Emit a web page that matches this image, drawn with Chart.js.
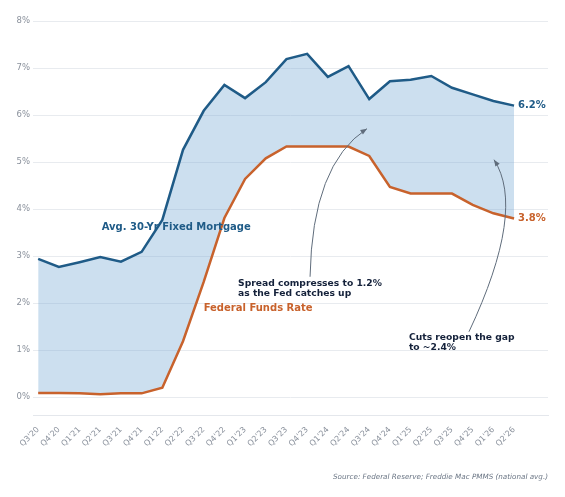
<!DOCTYPE html>
<html>
<head>
<meta charset="utf-8">
<script src="https://cdn.jsdelivr.net/npm/chart.js@4"></script>
<style>
  html, body { margin: 0; padding: 0; background: #fff; }
  #wrap { width: 565px; height: 497px; }
</style>
</head>
<body>
<div id="wrap"><canvas id="rates"></canvas></div>
<script>
const quarters = ["Q3'20","Q4'20","Q1'21","Q2'21","Q3'21","Q4'21","Q1'22","Q2'22","Q3'22","Q4'22",
                  "Q1'23","Q2'23","Q3'23","Q4'23","Q1'24","Q2'24","Q3'24","Q4'24","Q1'25","Q2'25",
                  "Q3'25","Q4'25","Q1'26","Q2'26"];
const mortgage = [2.94, 2.77, 2.87, 2.98, 2.88, 3.09, 3.77, 5.26, 6.09, 6.64,
                  6.36, 6.70, 7.19, 7.30, 6.81, 7.04, 6.34, 6.72, 6.75, 6.83,
                  6.58, 6.44, 6.30, 6.20];
const fedFunds = [0.09, 0.09, 0.08, 0.06, 0.08, 0.08, 0.20, 1.19, 2.45, 3.81,
                  4.64, 5.08, 5.33, 5.33, 5.33, 5.33, 5.13, 4.47, 4.33, 4.33,
                  4.33, 4.09, 3.91, 3.80];
const yTicks = [0, 1, 2, 3, 4, 5, 6, 7, 8];

const BLUE = '#1f5b87';
const ORANGE = '#c8622c';
const NOTE = '#14213a';
const ARROW = '#5f6c7b';
const FONT = "'DejaVu Sans', sans-serif";

// annotation text and arrows, placed in data units (x = quarter index, y = percent)
const labels = [
  { text: ['Avg. 30-Yr Fixed Mortgage'], x: 6.67, y: 3.6, color: BLUE, align: 'center', size: 10 },
  { text: ['Federal Funds Rate'], x: 10.63, y: 1.88, color: ORANGE, align: 'center', size: 10 },
  { text: ['Spread compresses to 1.2%', 'as the Fed catches up'], x: 9.66, y: 2.41, color: NOTE, align: 'left', size: 9.2 },
  { text: ['Cuts reopen the gap', 'to ~2.4%'], x: 17.92, y: 1.26, color: NOTE, align: 'left', size: 9.2 }
];
const arrows = [
  { from: [13.14, 2.56], ctrl: [13.24, 4.95], to: [15.89, 5.71] },
  { from: [20.82, 1.39], ctrl: [23.6, 3.99], to: [22.03, 5.05] }
];

const notesPlugin = {
  id: 'notes',
  afterDatasetsDraw(chart) {
    const { ctx, scales: { x, y } } = chart;
    const px = p => [x.getPixelForValue(p[0]), y.getPixelForValue(p[1])];
    ctx.save();

    arrows.forEach(a => {
      const [x0, y0] = px(a.from), [cx, cy] = px(a.ctrl), [x1, y1] = px(a.to);
      ctx.strokeStyle = ARROW;
      ctx.fillStyle = ARROW;
      ctx.lineWidth = 1;
      ctx.beginPath();
      ctx.moveTo(x0, y0);
      ctx.quadraticCurveTo(cx, cy, x1, y1);
      ctx.stroke();
      const ang = Math.atan2(y1 - cy, x1 - cx);
      ctx.beginPath();
      ctx.moveTo(x1, y1);
      ctx.lineTo(x1 - 7 * Math.cos(ang - 0.38), y1 - 7 * Math.sin(ang - 0.38));
      ctx.lineTo(x1 - 7 * Math.cos(ang + 0.38), y1 - 7 * Math.sin(ang + 0.38));
      ctx.closePath();
      ctx.fill();
    });

    labels.forEach(l => {
      ctx.font = 'bold ' + l.size + 'px ' + FONT;
      ctx.fillStyle = l.color;
      ctx.textAlign = l.align;
      ctx.textBaseline = 'middle';
      const [lx, ly] = px([l.x, l.y]);
      l.text.forEach((t, i) => ctx.fillText(t, lx, ly + i * 10));
    });

    // end-of-line value labels
    const last = quarters.length - 1;
    ctx.font = 'bold 10px ' + FONT;
    ctx.textAlign = 'left';
    ctx.textBaseline = 'middle';
    ctx.fillStyle = BLUE;
    ctx.fillText(mortgage[last].toFixed(1) + '%', x.getPixelForValue(last) + 4, y.getPixelForValue(mortgage[last]));
    ctx.fillStyle = ORANGE;
    ctx.fillText(fedFunds[last].toFixed(1) + '%', x.getPixelForValue(last) + 4, y.getPixelForValue(fedFunds[last]));

    // source line
    ctx.font = 'italic 7.2px ' + FONT;
    ctx.fillStyle = '#6b7685';
    ctx.textAlign = 'right';
    ctx.fillText('Source: Federal Reserve; Freddie Mac PMMS (national avg.)', chart.chartArea.right, 477);
    ctx.restore();
  }
};

const toPoints = vals => vals.map((v, i) => ({ x: i, y: v }));

new Chart(document.getElementById('rates'), {
  type: 'line',
  data: {
    datasets: [
      {
        label: 'Avg. 30-Yr Fixed Mortgage',
        data: toPoints(mortgage),
        borderColor: BLUE,
        borderWidth: 2.5,
        pointRadius: 0,
        tension: 0,
        fill: { target: '+1' },
        backgroundColor: 'rgba(122, 172, 212, 0.38)'
      },
      {
        label: 'Federal Funds Rate',
        data: toPoints(fedFunds),
        borderColor: ORANGE,
        borderWidth: 2.5,
        pointRadius: 0,
        tension: 0,
        fill: false
      }
    ]
  },
  options: {
    responsive: true,
    maintainAspectRatio: false,
    animation: false,
    layout: { padding: { top: 21, right: 17, left: 0, bottom: 0 } },
    plugins: {
      legend: { display: false },
      tooltip: { enabled: false },
      filler: { drawTime: 'beforeDatasetsDraw' }
    },
    scales: {
      x: {
        type: 'linear',
        min: -0.25,
        max: 24.64,
        afterBuildTicks: scale => { scale.ticks = quarters.map((q, i) => ({ value: i })); },
        afterFit: scale => { scale.height = 82; },
        grid: { display: false },
        border: { display: true, color: '#e4e7ec', width: 1 },
        ticks: {
          autoSkip: false,
          minRotation: 45,
          maxRotation: 45,
          padding: 2,
          color: '#8a919c',
          font: { family: FONT, size: 8 },
          callback: v => quarters[v]
        }
      },
      y: {
        min: -0.38,
        max: 8,
        afterBuildTicks: scale => { scale.ticks = yTicks.map(v => ({ value: v })); },
        afterFit: scale => { scale.width = 33; },
        grid: { color: '#e8ebef', lineWidth: 1, drawTicks: false },
        border: { display: false },
        ticks: {
          padding: 3,
          color: '#8a919c',
          font: { family: FONT, size: 8.5 },
          callback: v => v + '%'
        }
      }
    }
  },
  plugins: [notesPlugin]
});
</script>
</body>
</html>
